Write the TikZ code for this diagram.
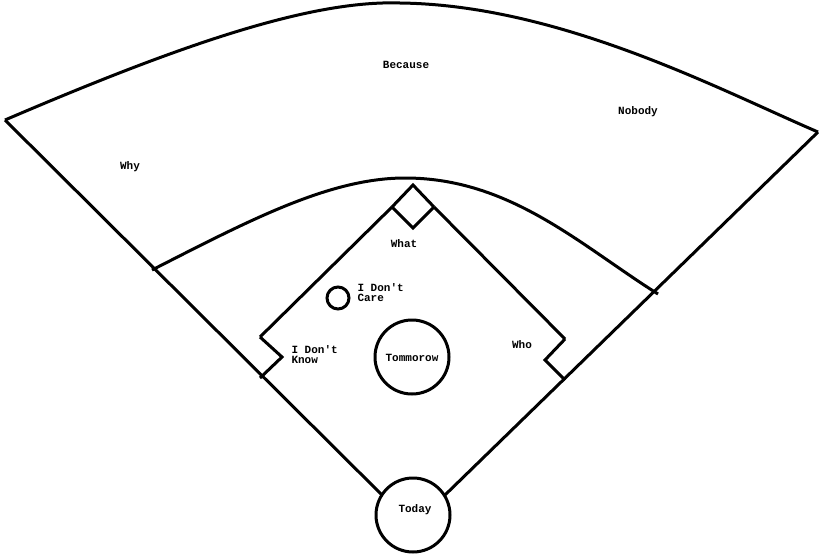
\documentclass[tikz,border=0pt]{standalone}
\usepackage{fontspec}
\setmonofont{Liberation Mono}
\begin{document}
\begin{tikzpicture}[x=1pt,y=-1pt,line width=3pt,
  lbl/.style={font=\ttfamily\bfseries\fontsize{11}{11}\selectfont,inner sep=0pt},
  lbll/.style={lbl,anchor=west,align=left}]
\useasboundingbox (0,0) rectangle (819,557);
% home plate, mound, small circle
\node[circle,draw,minimum size=74pt,inner sep=0pt] (home) at (413,515) {};
\node[lbl] (today) at (415,510) {Today};
\node[circle,draw,minimum size=74pt,inner sep=0pt] (mound) at (412,357) {};
\node[lbl] (tom) at (412,358) {Tommorow};
\node[circle,draw,minimum size=22pt,inner sep=0pt] (rosin) at (338,298) {};
\node[lbll] (care) at (356,293) {I Don't\\[-1pt]Care};
% foul line ends
\coordinate (hl) at (382,495);
\coordinate (hr) at (445,495);
\coordinate (lf) at (5,120);
\coordinate (rf) at (818,132);
\coordinate (il) at (152,270);
\coordinate (ir) at (658,294);
% outfield and infield arcs
\draw (lf) .. controls (180,45) and (310,0) .. (400,3) .. controls (560,5) and (720,90) .. (rf);
\draw (il) .. controls (250,220) and (330,178) .. (405,178) .. controls (510,178) and (580,245) .. (ir);
% foul lines
\draw (hl) -- (lf);
\draw (hr) -- (rf);
% bases
\coordinate (b1r) at (586,360); \coordinate (b1t) at (565,339);
\coordinate (b1l) at (545,360); \coordinate (b1b) at (565,380);
\coordinate (b2t) at (413,185); \coordinate (b2r) at (434,207);
\coordinate (b2b) at (413,228); \coordinate (b2l) at (392,207);
\coordinate (b3l) at (240,357); \coordinate (b3t) at (260,337);
\coordinate (b3r) at (282,357); \coordinate (b3b) at (260,378);
\draw (b1t) -- (b1l) -- (b1b);
\draw (b2r) -- (b2b) -- (b2l);
\draw (b3t) -- (b3r) -- (b3b);
\draw (b1t) -- (b2r); \draw (b2l) -- (b3t);
\draw (b2l) -- (b2t) -- (b2r);
% labels
\node[lbl] (because) at (406,65) {Because};
\node[lbl] (nobody) at (638,112) {Nobody};
\node[lbl] (why) at (130,167) {Why};
\node[lbl] (what) at (404,244) {What};
\node[lbl] (who) at (522,345) {Who};
\node[lbll] (know) at (290,355) {I Don't\\[-1pt]Know};
\end{tikzpicture}
\end{document}
